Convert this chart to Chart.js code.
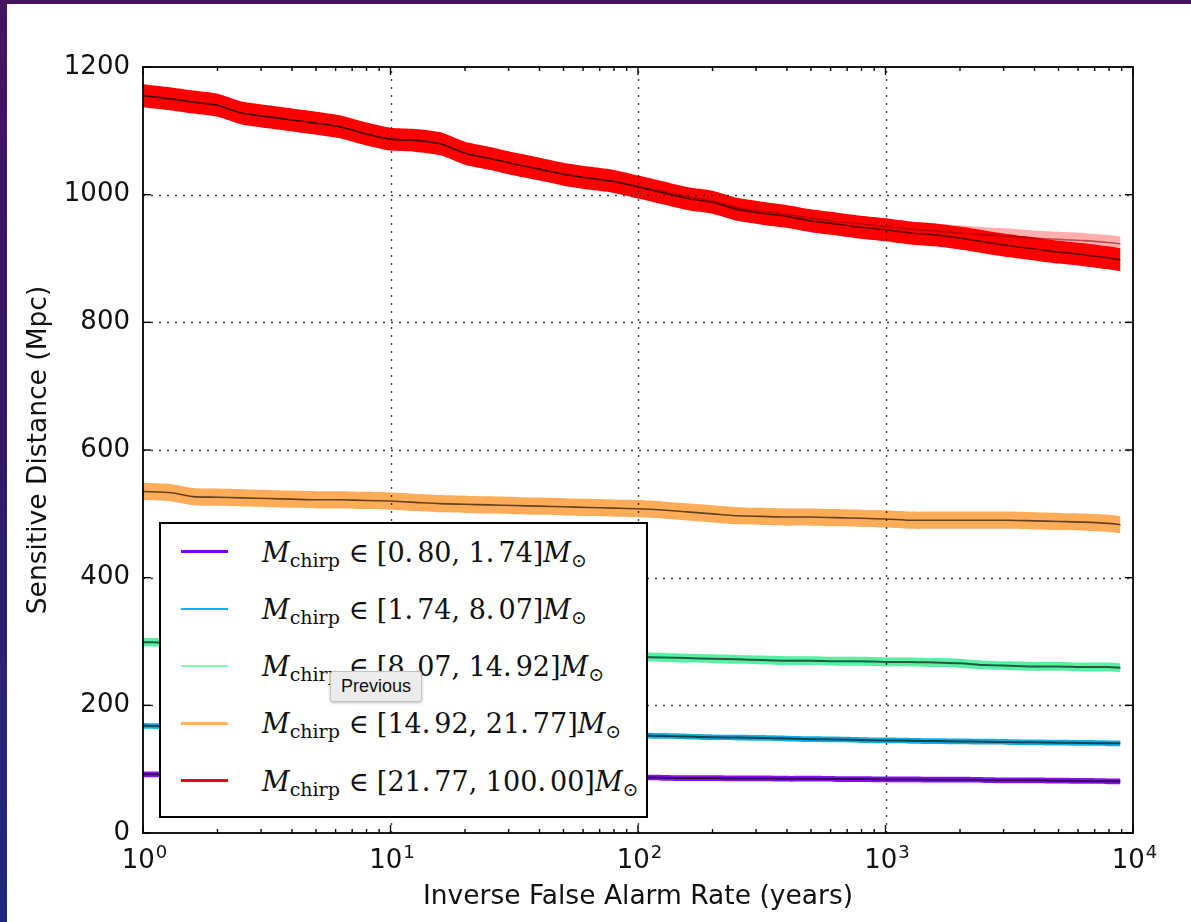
<!DOCTYPE html>
<html>
<head>
<meta charset="utf-8">
<script src="https://cdn.jsdelivr.net/npm/chart.js@4.4.1/dist/chart.umd.min.js"></script>
<style>
  html, body { margin: 0; padding: 0; }
  body {
    width: 1191px; height: 922px; position: relative; overflow: hidden;
    background: linear-gradient(180deg, #45135f 0%, #341866 45%, #1f2a7c 100%);
  }
  .sheet { position: absolute; left: 7px; top: 4px; right: 0; bottom: 0; background: #fff; }
  #chart { position: absolute; left: 0; top: 0; }
  .legend-box {
    position: absolute; left: 159px; top: 522px; width: 489px; height: 296px;
    box-sizing: border-box; border: 2px solid #000; background: #fff;
  }
  .legend-line { position: absolute; left: 181px; width: 47px; height: 2.5px; }
  .legend-text {
    position: absolute; left: 262px; height: 40px; line-height: 40px; white-space: nowrap;
    font-family: "DejaVu Serif", serif; font-size: 27px; color: #111;
  }
  .legend-text i { font-style: italic; }
  .legend-text .sub { font-size: 19px; vertical-align: -5px; font-style: normal; }
  .legend-text .op { margin: 0 8px 0 9px; }
  .legend-text .gap { display: inline-block; width: 4px; }
  .tip {
    position: absolute; left: 330px; top: 671px; width: 92px; height: 31px;
    box-sizing: border-box; background: #ececec; border: 1px solid #c2c2c2; border-radius: 3px;
    box-shadow: 0 1px 3px rgba(0,0,0,0.25);
    font-family: "Liberation Sans", Arial, sans-serif; font-size: 18px; line-height: 29px;
    text-align: center; color: #111;
  }
</style>
</head>
<body>
<div class="sheet"></div>
<canvas id="chart" width="1191" height="922"></canvas>
<div id="legend"></div>
<div class="tip">Previous</div>

<script>
// ── DATA ───────────────────────────────────────
// inverse false alarm rate (years)
const ifar = [1, 1.3, 1.6, 2, 2.5, 3.2, 4, 5, 6.3, 8,
  10, 12.6, 15.8, 20, 25, 31.6, 40, 50, 63, 79,
  100, 126, 158, 200, 251, 316, 398, 501, 631, 794,
  1000, 1259, 1585, 1995, 2512, 3162, 3981, 5012, 6310, 7943, 8900];

// sensitive distance (Mpc), one array per chirp-mass bin
const distBin1 = [92, 92, 91.5, 91, 91, 90.5, 90, 90, 89.5, 89,
  89, 88.5, 88.5, 88, 88, 88, 87.5, 87.5, 87, 87,
  87, 86.5, 86, 86, 85.5, 85.5, 85, 85, 84.5, 84.5,
  84, 84, 83.5, 83.5, 83, 82.5, 82.5, 82, 81.5, 81, 81];
const distBin2 = [168, 167, 166, 165, 164, 163, 162, 161, 160, 159,
  158.5, 158, 157, 157, 156, 155.5, 155, 154.5, 154, 153.5,
  153, 152, 151, 150, 149.5, 149, 148, 147, 146.5, 145.5,
  145, 144.5, 144, 143.5, 143, 142.5, 142, 141.5, 141, 140.5, 140.5];
const distBin3 = [299, 298, 296, 294, 293, 292, 290, 289, 288, 287,
  286, 284, 283, 282, 281, 280, 279, 278, 277, 277,
  276, 275, 274, 273, 272, 271, 270, 270, 269, 269,
  268, 268, 267, 266, 263, 262, 261, 261, 260, 260, 259];
const distBin4 = [535, 533, 527, 526, 525, 524, 523, 522, 522, 521,
  520, 518, 516, 515, 514, 513, 512, 511, 510, 509,
  508, 506, 503, 500, 497, 496, 495, 495, 494, 493,
  492, 490, 490, 490, 490, 490, 489, 488, 487, 485, 483];
const distBin5 = [1155, 1150, 1145, 1140, 1128, 1122, 1117, 1112, 1106, 1095,
  1087, 1085, 1080, 1065, 1057, 1048, 1040, 1032, 1026, 1021,
  1012, 1003, 994, 988, 977, 971, 966, 959, 954, 949,
  945, 940, 937, 932, 926, 920, 915, 910, 906, 901, 898];
// second (faint) run of the heaviest bin
const distBin5b = [1155, 1150, 1145, 1140, 1128, 1122, 1117, 1112, 1106, 1095,
  1087, 1085, 1080, 1065, 1057, 1048, 1040, 1032, 1026, 1021,
  1013, 1005, 997, 990, 980, 974, 969, 963, 958, 954,
  950, 946, 943, 940, 937, 935, 932, 930, 928, 925, 923];

// half-width of the uncertainty band (Mpc)
const errBin1 = 4.5, errBin2 = 4.5, errBin3 = 7, errBin4 = 13.5, errBin5 = 18, errBin5b = 12;

const chirpBins = [['0.80', '1.74'], ['1.74', '8.07'], ['8.07', '14.92'], ['14.92', '21.77'], ['21.77', '100.00']];

const yTicks = [0, 200, 400, 600, 800, 1000, 1200];
const xDecades = [1, 10, 100, 1000, 10000];
const xExponents = ['0', '1', '2', '3', '4'];
const minorSteps = [2, 3, 4, 5, 6, 7, 8, 9];

// ── STYLE ──────────────────────────────────────
const binColors = ['#8000ff', '#00b4eb', '#80ffb4', '#ffb462', '#ff0000'];
const bandColors = ['#8a10f0', '#10aee0', '#58f0a4', '#ffac58', '#ff0000'];
const midLine = 'rgba(0,0,0,0.62)';

function bandSets(vals, err, fill, line, lw) {
  const pts = d => vals.map((v, i) => ({ x: ifar[i], y: v + d }));
  const common = { pointRadius: 0, tension: 0.25, borderColor: 'transparent', borderWidth: 0 };
  return [
    { ...common, data: pts(err), fill: false, order: 2 },
    { ...common, data: pts(-err), fill: '-1', backgroundColor: fill, order: 2 },
    { data: pts(0), pointRadius: 0, tension: 0.25, borderColor: line, borderWidth: lw, fill: false, order: 1 }
  ];
}

const datasets = [
  ...bandSets(distBin5, errBin5, bandColors[4], midLine, 1.6),
  ...bandSets(distBin5b, errBin5b, 'rgba(255,0,0,0.32)', 'rgba(120,0,0,0.55)', 1.6),
  ...bandSets(distBin4, errBin4, bandColors[3], midLine, 1.6),
  ...bandSets(distBin3, errBin3, bandColors[2], midLine, 2),
  ...bandSets(distBin2, errBin2, bandColors[1], midLine, 2),
  ...bandSets(distBin1, errBin1, bandColors[0], midLine, 2)
];

// ── FRAME, GRID, TICKS, LABELS ─────────────────
const axesPlugin = {
  id: 'mplAxes',
  afterDatasetsDraw(chart) {
    const { ctx, chartArea: a, scales: { x, y } } = chart;
    ctx.save();

    // dotted grid
    ctx.strokeStyle = 'rgba(0,0,0,0.75)';
    ctx.lineWidth = 1.4;
    ctx.setLineDash([2, 6]);
    xDecades.slice(1, -1).forEach(v => {
      const px = Math.round(x.getPixelForValue(v)) + 0.5;
      ctx.beginPath(); ctx.moveTo(px, a.bottom); ctx.lineTo(px, a.top); ctx.stroke();
    });
    yTicks.slice(1, -1).forEach(v => {
      const py = Math.round(y.getPixelForValue(v)) + 0.5;
      ctx.beginPath(); ctx.moveTo(a.left, py); ctx.lineTo(a.right, py); ctx.stroke();
    });
    ctx.setLineDash([]);

    // inward ticks
    ctx.strokeStyle = '#000';
    ctx.lineWidth = 1.4;
    const tick = (x1, y1, x2, y2) => { ctx.beginPath(); ctx.moveTo(x1, y1); ctx.lineTo(x2, y2); ctx.stroke(); };
    yTicks.forEach(v => {
      const py = y.getPixelForValue(v);
      tick(a.left, py, a.left + 8, py);
      tick(a.right, py, a.right - 8, py);
    });
    xDecades.forEach((d, i) => {
      const px = x.getPixelForValue(d);
      tick(px, a.bottom, px, a.bottom - 8);
      tick(px, a.top, px, a.top + 8);
      if (i === xDecades.length - 1) return;
      minorSteps.forEach(m => {
        const pm = x.getPixelForValue(d * m);
        tick(pm, a.bottom, pm, a.bottom - 4);
        tick(pm, a.top, pm, a.top + 4);
      });
    });

    // frame
    ctx.lineWidth = 1.8;
    ctx.strokeRect(a.left, a.top, a.right - a.left, a.bottom - a.top);

    // x tick labels 10^n
    ctx.fillStyle = '#111';
    ctx.textBaseline = 'alphabetic';
    ctx.textAlign = 'left';
    xDecades.forEach((d, i) => {
      const px = x.getPixelForValue(d);
      ctx.font = '26px "DejaVu Sans"';
      const wb = ctx.measureText('10').width;
      ctx.font = '18px "DejaVu Sans"';
      const we = ctx.measureText(xExponents[i]).width;
      const x0 = px - (wb + we) / 2 + 1;
      ctx.font = '26px "DejaVu Sans"';
      ctx.fillText('10', x0, a.bottom + 35);
      ctx.font = '18px "DejaVu Sans"';
      ctx.fillText(xExponents[i], x0 + wb + 1, a.bottom + 25);
    });

    // axis titles
    ctx.font = '26.5px "DejaVu Sans"';
    ctx.textAlign = 'center';
    ctx.fillText('Inverse False Alarm Rate (years)', (a.left + a.right) / 2, a.bottom + 71);
    ctx.translate(46, (a.top + a.bottom) / 2);
    ctx.rotate(-Math.PI / 2);
    ctx.fillText('Sensitive Distance (Mpc)', 0, 0);
    ctx.restore();
  }
};

// ── CHART ──────────────────────────────────────
new Chart(document.getElementById('chart'), {
  type: 'line',
  data: { datasets },
  options: {
    responsive: false,
    animation: false,
    layout: { padding: { left: 0, top: 67, right: 58, bottom: 0 } },
    plugins: { legend: { display: false }, tooltip: { enabled: false } },
    scales: {
      x: {
        type: 'logarithmic', min: 1, max: 10000,
        grid: { display: false }, border: { display: false },
        ticks: { display: false },
        afterFit: s => { s.height = 89; }
      },
      y: {
        min: 0, max: 1200,
        afterBuildTicks: s => { s.ticks = yTicks.map(v => ({ value: v })); },
        grid: { display: false }, border: { display: false },
        ticks: {
          color: '#111', padding: 5, font: { family: 'DejaVu Sans', size: 26 },
          callback: v => String(v)
        },
        afterFit: s => { s.width = 143; }
      }
    }
  },
  plugins: [axesPlugin]
});

// ── LEGEND ─────────────────────────────────────
const spaced = s => s.replace('.', '.<span class="gap"></span>');
document.getElementById('legend').innerHTML = `
  <div class="legend-box"></div>
  ${chirpBins.map(([lo, hi], i) => {
    const cy = 551.7 + 57.25 * i;
    return `
      <div class="legend-line" style="top:${cy - 1.25}px;background:${binColors[i]}"></div>
      <div class="legend-text" style="top:${cy - 19}px">
        <i>M</i><span class="sub">chirp</span><span class="op">∈</span>[${spaced(lo)}, ${spaced(hi)}]<i>M</i><span class="sub">⊙</span>
      </div>`;
  }).join('')}`;
</script>
</body>
</html>
